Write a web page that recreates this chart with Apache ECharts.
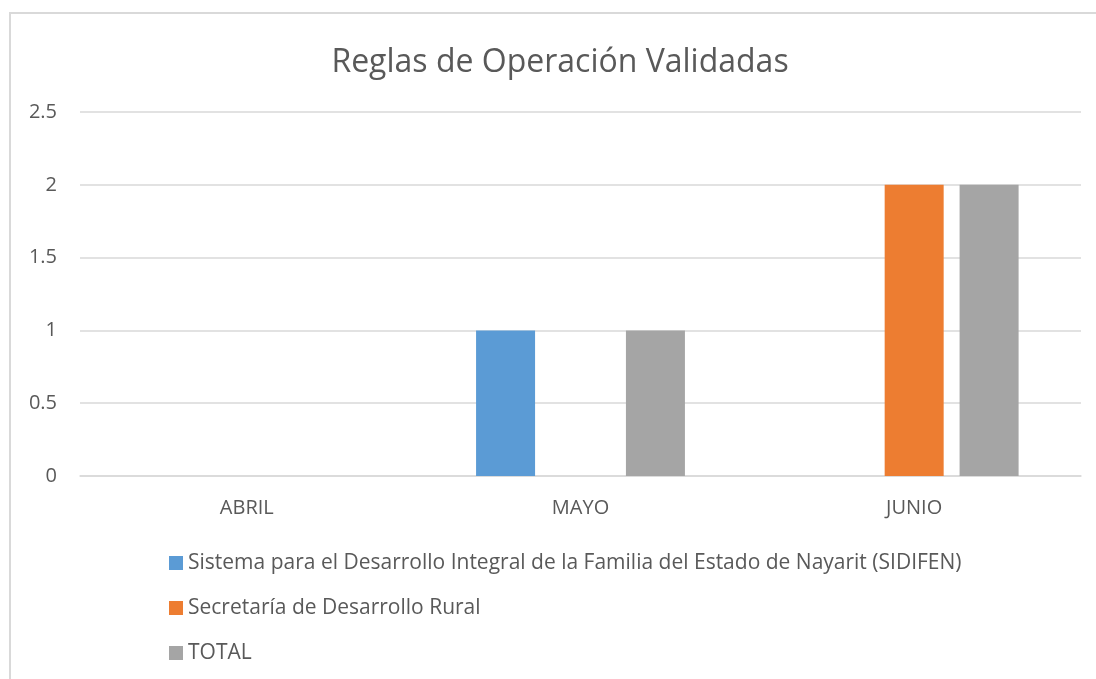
<!DOCTYPE html>
<html>
<head>
<meta charset="utf-8">
<script src="https://cdn.jsdelivr.net/npm/echarts@6/dist/echarts.min.js"></script>
<style>
  html, body { margin: 0; padding: 0; background: #fff; }
  #chart { width: 1096px; height: 679px; }
</style>
</head>
<body>
<div id="chart"></div>
<script>
// datos
const months = ['ABRIL', 'MAYO', 'JUNIO'];
const seriesNames = [
  'Sistema para el Desarrollo Integral de la Familia del Estado de Nayarit (SIDIFEN)',
  'Secretaría de Desarrollo Rural',
  'TOTAL'
];
const sidifen = [0, 1, 0];
const desarrolloRural = [0, 0, 2];
const total = [0, 1, 2];
const colors = ['#5B9BD5', '#ED7D31', '#A5A5A5'];

const FONT = '"Open Sans", "Liberation Sans", sans-serif';
const chart = echarts.init(document.getElementById('chart'));

const values = [sidifen, desarrolloRural, total];

const option = {
  animation: false,
  textStyle: { fontFamily: FONT },
  title: {
    text: 'Reglas de Operación Validadas',
    left: 555,
    textAlign: 'center',
    top: 42,
    textStyle: { fontFamily: FONT, fontSize: 32, fontWeight: 'normal', color: '#595959' }
  },
  graphic: [{
    type: 'rect',
    shape: { x: 10, y: 13, width: 1200, height: 800 },
    style: { fill: 'none', stroke: '#d9d9d9', lineWidth: 2 },
    silent: true
  }],
  grid: { left: 80, right: 15, top: 112, bottom: 203, containLabel: false },
  xAxis: {
    type: 'category',
    data: months,
    axisLine: { lineStyle: { color: '#d9d9d9', width: 1.5 } },
    axisTick: { show: false },
    axisLabel: { color: '#595959', fontSize: 20, margin: 22, fontFamily: FONT }
  },
  yAxis: {
    type: 'value',
    min: 0,
    max: 2.5,
    interval: 0.5,
    axisLine: { show: false },
    axisTick: { show: false },
    axisLabel: { color: '#595959', fontSize: 20, margin: 23, fontFamily: FONT },
    splitLine: { lineStyle: { color: '#d9d9d9', width: 1.5 } }
  },
  legend: {
    orient: 'vertical',
    left: 164,
    top: 546,
    itemWidth: 14,
    itemHeight: 14,
    itemGap: 21,
    icon: 'rect',
    data: seriesNames,
    textStyle: { color: '#595959', fontSize: 21, lineHeight: 24, fontFamily: FONT }
  },
  series: seriesNames.map((name, i) => ({
    name: name,
    type: 'bar',
    data: values[i],
    barWidth: 59,
    barGap: '27%',
    itemStyle: { color: colors[i] }
  }))
};

chart.setOption(option);
</script>
</body>
</html>
